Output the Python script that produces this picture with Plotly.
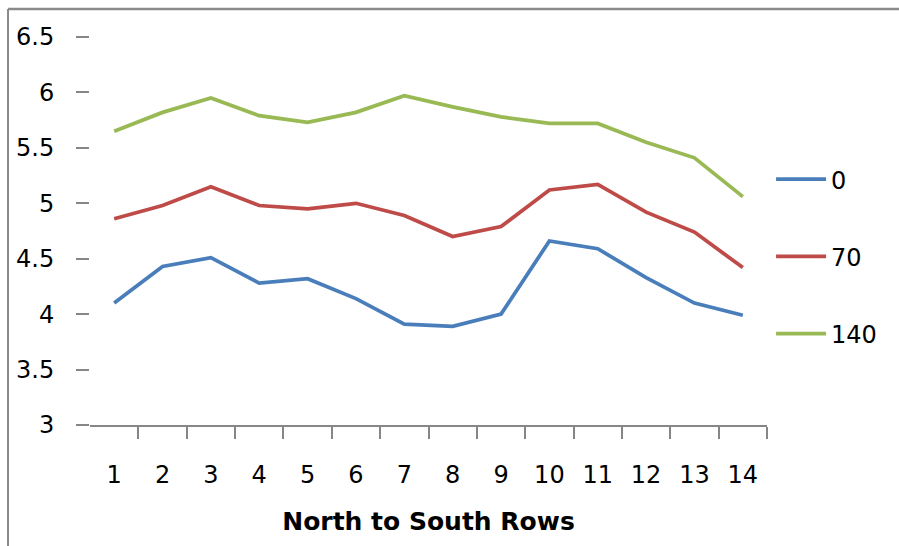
import plotly.graph_objects as go

# Rows, north to south
rows = list(range(1, 15))

# Series values by treatment rate
rate_labels = ["0", "70", "140"]
vals_0 = [4.10, 4.43, 4.51, 4.28, 4.32, 4.14, 3.91, 3.89, 4.00, 4.66, 4.59, 4.33, 4.10, 3.99]
vals_70 = [4.86, 4.98, 5.15, 4.98, 4.95, 5.00, 4.89, 4.70, 4.79, 5.12, 5.17, 4.92, 4.74, 4.42]
vals_140 = [5.65, 5.82, 5.95, 5.79, 5.73, 5.82, 5.97, 5.87, 5.78, 5.72, 5.72, 5.55, 5.41, 5.06]

y_ticks = [3, 3.5, 4, 4.5, 5, 5.5, 6, 6.5]
y_tick_text = ["3", "3.5", "4", "4.5", "5", "5.5", "6", "6.5"]

colors = ["#4A7EBB", "#BE4B48", "#98B954"]
FONT = "DejaVu Sans"
GRAY = "#868686"

fig = go.Figure()
for name, vals, col in zip(rate_labels, [vals_0, vals_70, vals_140], colors):
    fig.add_trace(go.Scatter(
        x=rows, y=vals, name=name, mode="lines", legendgroup=name,
        line=dict(color=col, width=3.75),
    ))

fig.update_layout(
    width=899, height=546,
    margin=dict(l=90, r=132, t=37, b=121),
    paper_bgcolor="white", plot_bgcolor="white",
    font=dict(family=FONT, size=24, color="black"),
    showlegend=True,
    legend=dict(
        x=1.006, xanchor="left", y=0.434, yanchor="middle",
        font=dict(family=FONT, size=24, color="black"),
        tracegroupgap=43, itemwidth=50, bgcolor="rgba(0,0,0,0)",
    ),
    xaxis=dict(
        range=[0.5, 14.5], tickmode="array", tickvals=rows,
        ticktext=[str(r) for r in rows], ticks="",
        showgrid=False, zeroline=False,
        showline=True, linecolor=GRAY, linewidth=1.5,
        minor=dict(tickmode="array", tickvals=[r + 0.5 for r in rows],
                   ticks="outside", ticklen=12, tickcolor=GRAY, tickwidth=1.5,
                   showgrid=False),
        tickfont=dict(family=FONT, size=24),
        ticklabelstandoff=27,
        title=dict(text="<b>North to South Rows</b>", standoff=25,
                   font=dict(family=FONT, size=25)),
    ),
    yaxis=dict(
        range=[3, 6.5], tickmode="array", tickvals=y_ticks, ticktext=y_tick_text,
        ticks="outside", ticklen=13, tickcolor=GRAY, tickwidth=1.5,
        showgrid=False, zeroline=False, showline=False,
        tickfont=dict(family=FONT, size=24),
        ticklabelstandoff=17,
    ),
    shapes=[
        dict(type="line", xref="paper", yref="paper", x0=-0.1211, x1=1.3,
             y0=1.0722, y1=1.0722, line=dict(color="#8a8a8a", width=2.5)),
        dict(type="line", xref="paper", yref="paper", x0=-0.1211, x1=-0.1211,
             y0=1.0722, y1=-0.4, line=dict(color="#8a8a8a", width=2)),
    ],
)

fig.write_html("out.html")
